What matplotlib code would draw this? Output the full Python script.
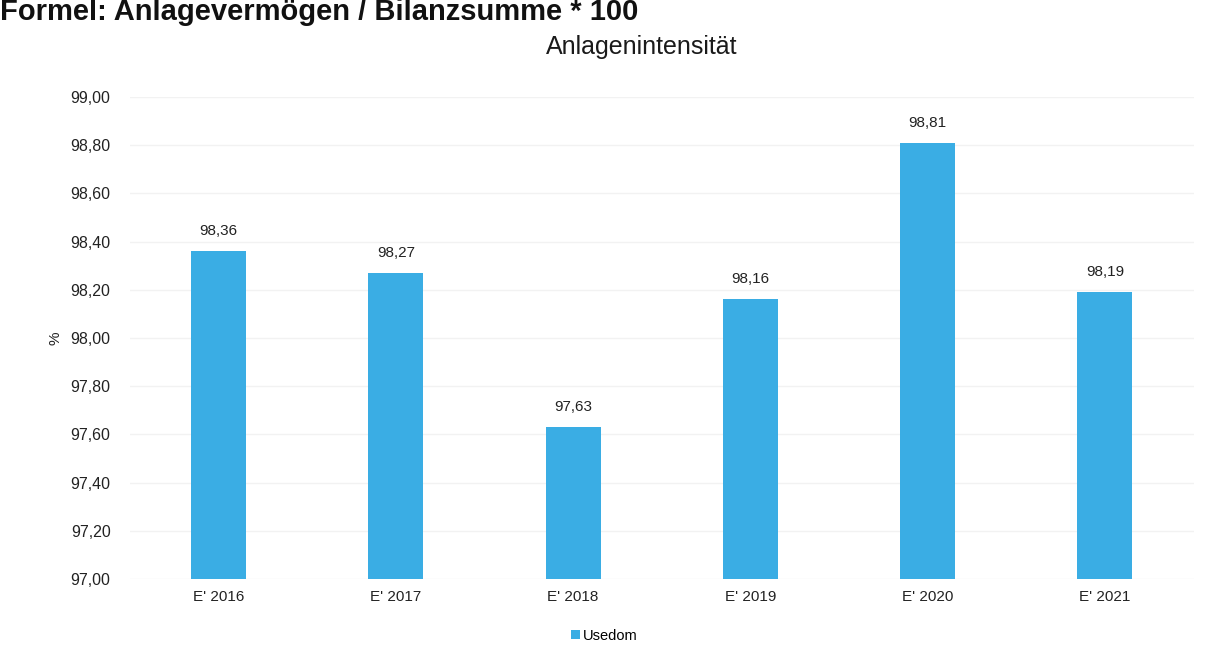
import numpy as np
import matplotlib.pyplot as plt

# --- Data ---
categories = ["E' 2016", "E' 2017", "E' 2018", "E' 2019", "E' 2020", "E' 2021"]
values = [98.36, 98.27, 97.63, 98.16, 98.81, 98.19]
series_name = "Usedom"
yticks = [97.0, 97.2, 97.4, 97.6, 97.8, 98.0, 98.2, 98.4, 98.6, 98.8, 99.0]

bar_color = "#3aade4"

plt.rcParams['font.family'] = ['Liberation Sans', 'DejaVu Sans']

fig = plt.figure(figsize=(12.08, 6.56), dpi=100)
ax = fig.add_axes([0.1076, 0.1174, 0.8804, 0.7346])

x = np.arange(len(categories))
bars = ax.bar(x, values, width=0.31, color=bar_color, label=series_name, zorder=2)

# value labels above bars
for xi, v in zip(x, values):
    ax.text(xi, v + 0.055, f"{v:.2f}".replace(".", ","), ha='center', va='bottom',
            fontsize=11, color='#222222')

ax.set_xlim(-0.5, len(categories) - 0.5)
ax.set_ylim(97.0, 99.0)
ax.set_yticks(yticks)
ax.set_yticklabels([f"{t:.2f}".replace(".", ",") for t in yticks], fontsize=11.5, color='#222222')
ax.set_xticks(x)
ax.set_xticklabels(categories, fontsize=11, color='#222222')
ax.tick_params(axis='both', length=0, pad=8)
ax.tick_params(axis='y', pad=14)
ax.yaxis.grid(True, color='#f2f2f2', linewidth=1, zorder=0)
for s in ax.spines.values():
    s.set_visible(False)

ax.set_ylabel("%", fontsize=11, color='#222222', labelpad=6)

fig.text(0.531, 0.928, "Anlagenintensität", ha='center', va='center', fontsize=18, color='#1a1a1a')

# formula header at the top edge of the scan
fig.text(0.0, 1 - 20 / 656, "Formel: Anlagevermögen / Bilanzsumme * 100", ha='left', va='baseline',
         fontsize=21, fontweight='bold', color='#111111')

fig.legend(handles=[bars], labels=[series_name], loc='center', bbox_to_anchor=(0.50, 0.031),
           frameon=False, fontsize=10.5, handlelength=0.6, handleheight=0.6, handletextpad=0.2)

fig.savefig("out.png", dpi=100)
